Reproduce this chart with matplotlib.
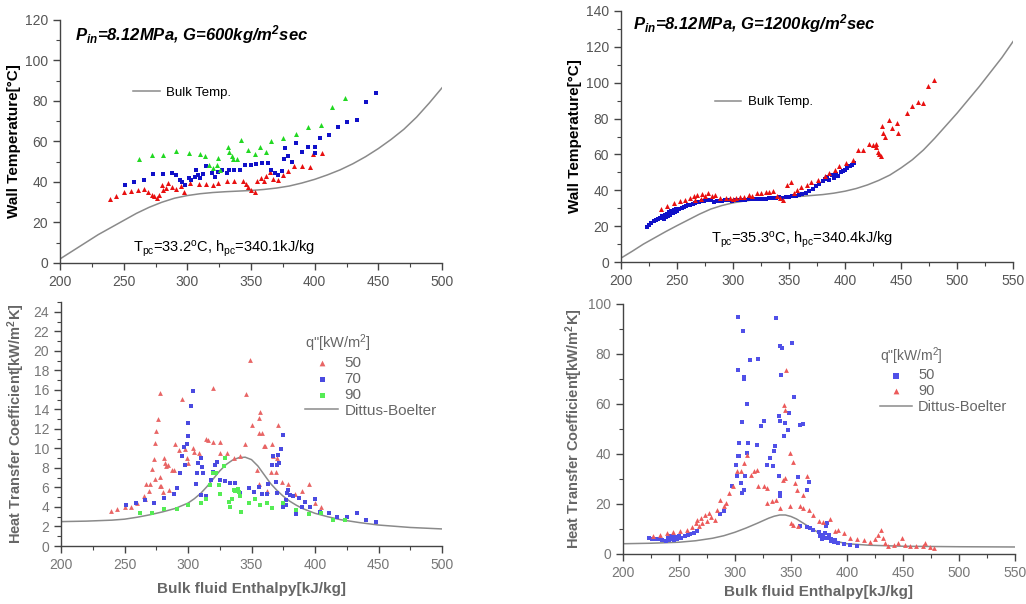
import matplotlib
matplotlib.use("Agg")
import matplotlib.pyplot as plt
from matplotlib.ticker import MultipleLocator
from matplotlib.lines import Line2D

plt.rcParams["font.family"] = ["Liberation Sans", "DejaVu Sans"]
plt.rcParams["mathtext.default"] = "regular"

# ---------------- top left: wall temperature, G=600 ----------------
bulk1_h = [200, 210, 220, 230, 240, 250, 260, 270, 280, 290, 300, 310, 320, 330, 340, 350,
           360, 370, 380, 390, 400, 410, 420, 430, 440, 450, 460, 470, 480, 490, 500]
bulk1_T = [2, 6, 10, 14, 17.5, 21, 24.5, 27.5, 30, 32, 33.3, 34.2, 34.8, 35.2, 35.5, 35.8,
           36.3, 37, 38, 39.5, 41.3, 43.5, 46, 49, 52.5, 56.5, 61, 66, 72, 79, 86.5]

tw1_q50_h = [239, 244, 250, 256, 261, 266, 269, 272, 274, 276, 278, 280, 281, 283, 285, 288,
             291, 295, 297, 302, 309, 315, 320, 324, 331, 337, 344, 346, 348, 350, 353, 355,
             358, 360, 362, 365, 367, 371, 375, 379, 384, 390, 396, 399, 406]
tw1_q50_T = [31.6, 33.2, 34.9, 35.7, 36, 36.5, 35.3, 33.7, 32.9, 32, 33.7, 38.6, 35.8, 37,
             39.5, 37.5, 36.5, 37.8, 35.3, 39.5, 39.1, 39, 38.6, 39.5, 40.6, 40.6, 40.6, 39.1,
             37.3, 36.2, 35, 40.3, 41.9, 40.3, 43, 44.7, 41.4, 41.1, 43.6, 45.2, 47.7, 47.7,
             47.3, 53.9, 54.2]
tw1_q70_h = [251, 258, 266, 273, 281, 288, 291, 294, 296, 298, 301, 303, 306, 307, 308, 310,
             312, 315, 319, 322, 324, 327, 331, 333, 337, 341, 345, 350, 354, 359, 363, 366,
             369, 371, 374, 376, 377, 379, 382, 385, 390, 395, 400, 400, 404, 411, 418, 425,
             433, 440, 448]
tw1_q70_T = [38.3, 39.8, 41.1, 44, 44, 44.4, 43.6, 41.1, 39.8, 38.6, 41.9, 41, 42.7, 46, 43.6,
             42, 44, 47.7, 44.4, 42.7, 44.7, 46, 44.4, 46, 46, 46, 48.5, 48.5, 49, 49.3, 49.3,
             46, 44.4, 43.6, 45.2, 51.5, 56.7, 52.6, 50.1, 59.2, 55, 57.5, 57.5, 54.2, 61.6,
             63.3, 67.4, 69.5, 70.4, 79.7, 83.8]
tw1_q90_h = [262, 272, 281, 291, 301, 310, 314, 317, 320, 323, 324, 326, 332, 333, 335, 336,
             339, 342, 348, 353, 357, 362, 366, 375, 385, 395, 405, 414, 424]
tw1_q90_T = [51.3, 53.4, 53.4, 55.4, 54.2, 53.9, 52.9, 48.5, 46.9, 48.5, 51.8, 46, 57.5, 55,
             52.6, 51.3, 51.3, 60.8, 55.9, 53.9, 57.5, 55, 60, 61.6, 63.8, 67, 67.9, 77, 81.7]

# ---------------- top right: wall temperature, G=1200 ----------------
bulk2_h = [200, 210, 220, 230, 240, 250, 260, 270, 280, 290, 300, 310, 320, 330, 340, 350,
           360, 370, 380, 390, 400, 410, 420, 430, 440, 450, 460, 470, 480, 490, 500, 510,
           520, 530, 540, 550]
bulk2_T = [2.2, 6, 10, 13.5, 17, 20.3, 23.5, 26.7, 29.5, 31.5, 33, 34, 34.8, 35.3, 35.8, 36.2,
           36.6, 37.1, 37.6, 38.4, 39.5, 41, 43, 45.5, 48.5, 52.5, 57, 62.5, 69, 76, 83, 90.5,
           98, 106, 114, 123]

tw2_q50_h = [223, 225, 227, 229, 231, 233, 235, 237, 238, 239, 240, 241, 242, 243, 244, 245,
             246, 247, 248, 249, 250, 252, 254, 256, 258, 260, 262, 264, 266, 268, 270, 272,
             274, 276, 278, 280, 283, 286, 288, 290, 293, 296, 299, 302, 305, 308, 311, 314,
             317, 320, 323, 326, 329, 332, 335, 338, 341, 344, 347, 350, 353, 356, 359, 362,
             365, 368, 371, 374, 377, 380, 382, 384, 386, 388, 390, 392, 394, 396, 398, 400,
             402, 404, 406, 408]
tw2_q50_T = [19.8, 20.8, 21.8, 22.6, 23.3, 24.2, 24.8, 25.5, 23.8, 26.5, 25, 27, 25.8, 28,
             26.5, 28.6, 27.3, 29, 28, 29.5, 28.7, 29.7, 30.2, 30.8, 31.2, 31.7, 32, 32.5,
             32.9, 33.2, 33.5, 33.8, 34.2, 34.4, 34.6, 34.8, 33.6, 34, 34.2, 34.3, 34.4, 34.5,
             34.3, 34.6, 34.7, 34.4, 34.8, 35, 35.1, 34.9, 35.3, 35.4, 35.2, 35.6, 35.8, 35.5,
             36, 35.8, 36.2, 36.4, 36.6, 36.9, 37.3, 38.2, 38.5, 39.5, 41, 42.5, 43.6, 45,
             46.5, 47.2, 46, 48.5, 46.8, 49, 47.8, 50, 50.5, 51.5, 52.5, 53.3, 54.2, 55]
tw2_q90_h = [236, 241, 247, 253, 257, 262, 265, 266, 268, 271, 272, 275, 278, 281, 284, 288,
             294, 300, 306, 314, 321, 329, 336, 339, 342, 345, 348, 352, 354, 357, 361, 366,
             370, 376, 382, 386, 391, 395, 401, 407, 412, 416, 421, 425, 428, 429, 430, 432,
             428, 433, 434, 436, 439, 442, 446, 447, 455, 460, 465, 470, 474, 479, 297, 303,
             310, 317, 325, 332]
tw2_q90_T = [29.5, 31, 32.9, 34.2, 34.7, 35.6, 36.6, 34.7, 37.5, 35.1, 37.9, 36.6, 38.4, 36.6,
             37.1, 35.6, 35.6, 35.3, 36, 37.5, 38.4, 38.8, 39.4, 36.6, 35.6, 34.7, 43, 44.9,
             38.4, 40.3, 42.1, 43, 44.9, 45.9, 47.7, 49.6, 51.4, 53.3, 55.1, 57, 62.2, 62.6,
             65.9, 65.4, 64.4, 61.6, 60.3, 58.9, 65.9, 75.6, 71.9, 70, 79.3, 74.6, 77.4, 71.9,
             83, 87.1, 89.5, 88.9, 98.2, 101.6, 35.8, 35.5, 36.2, 37, 38.5, 39]

# ---------------- bottom left: HTC, G=600 ----------------
db1_h = [200, 220, 240, 250, 260, 270, 280, 290, 300, 305, 310, 315, 320, 325, 330, 335, 340,
         345, 350, 355, 360, 365, 370, 375, 380, 385, 390, 400, 410, 420, 435, 450, 475, 500]
db1_v = [2.5, 2.55, 2.65, 2.75, 2.95, 3.2, 3.5, 3.85, 4.4, 4.85, 5.4, 6.1, 6.9, 7.7, 8.35, 8.8,
         9.05, 9.1, 8.85, 8.2, 7.3, 6.4, 5.7, 5.1, 4.6, 4.2, 3.85, 3.35, 3.0, 2.7, 2.4, 2.15,
         1.9, 1.75]

htc1_q50_h = [239, 244, 250, 255, 260, 266, 269, 270, 272, 273, 274, 275, 276, 278, 278, 279,
              280, 281, 282, 283, 285, 287, 290, 293, 295, 298, 299, 304, 309, 314, 316, 320,
              320, 325, 325, 331, 336, 341, 345, 346, 349, 350, 354, 356, 356, 358, 356, 357,
              360, 361, 362, 365, 366, 369, 370, 371, 374, 379, 384, 390, 395, 400, 405, 267,
              274, 278, 265, 284, 289, 300, 305, 367]
htc1_q50_v = [3.6, 3.8, 4.0, 4.0, 4.4, 4.8, 5.6, 6.4, 7.9, 8.9, 10.6, 11.8, 13, 15.7, 7.1, 6.1,
              5.5, 9, 8.5, 8.2, 5.7, 7.8, 10.5, 9.8, 15.1, 9.9, 9, 10, 9.5, 11, 10.9, 16.2,
              10.7, 10.7, 9.5, 9.5, 9, 9.2, 10.5, 15.6, 19.1, 12.4, 7.8, 6.4, 11.6, 11.6, 13.1,
              13.7, 10.2, 10.2, 5.6, 7.6, 10.5, 7.6, 9, 12.4, 6.6, 6.4, 5.3, 5.6, 6.4, 4.4, 4.0,
              6.4, 6.9, 6.1, 5.1, 8.3, 7.8, 8.5, 9.6, 9.2]
htc1_q70_h = [251, 259, 266, 273, 281, 289, 291, 294, 295, 297, 298, 299, 300, 300, 302, 304,
              306, 307, 308, 310, 310, 311, 312, 314, 318, 320, 321, 323, 325, 329, 329, 333,
              337, 341, 348, 352, 356, 358, 362, 363, 366, 367, 369, 370, 370, 371, 372, 373,
              375, 375, 377, 377, 378, 379, 380, 383, 385, 387, 390, 392, 396, 400, 404, 411,
              417, 425, 433, 440, 448]
htc1_q70_v = [4.2, 4.4, 4.7, 4.4, 4.9, 5.3, 5.9, 7.5, 9.2, 10.1, 8.3, 10.5, 11.3, 12.6, 14.3,
              15.9, 6.4, 7.5, 8.5, 9, 5.2, 8.1, 7.5, 5.1, 6.8, 7.6, 8.3, 8.6, 6.8, 9, 6.7, 6.5,
              6.5, 5.4, 5.9, 5.5, 6, 5.3, 5.3, 6.4, 8.3, 9.2, 6.6, 5.4, 8.3, 9.3, 8.5, 9.9,
              11.4, 4, 4.2, 4.7, 5.4, 5.7, 5.2, 5.1, 3.3, 4.9, 4, 4.5, 4, 4.8, 3.5, 3.4, 3, 3,
              3.4, 2.7, 2.5]
htc1_q90_h = [262, 272, 281, 291, 300, 310, 314, 317, 320, 322, 324, 325, 328, 329, 332, 333,
              335, 336, 337, 339, 340, 341, 342, 348, 353, 357, 362, 366, 375, 385, 395, 405,
              414, 424]
htc1_q90_v = [3.4, 3.4, 3.8, 3.8, 4.2, 4.4, 4.8, 6.3, 7.5, 7.5, 6.3, 5.3, 8.2, 9, 4.5, 4, 4.8,
              5.7, 5.6, 5.8, 5.5, 5.1, 3.5, 4.4, 4.8, 4.2, 4.4, 3.9, 4.4, 3.7, 3.3, 3.4, 2.7,
              2.7]

# ---------------- bottom right: HTC, G=1200 ----------------
db2_h = [200, 225, 250, 265, 280, 290, 300, 310, 320, 330, 335, 340, 345, 350, 355, 360, 365,
         370, 375, 380, 385, 390, 400, 420, 450, 500, 550]
db2_v = [4.1, 4.3, 4.7, 5.3, 6.3, 7.3, 8.7, 10.4, 12.3, 14.3, 15.1, 15.6, 15.6, 15, 14, 12.6,
         11.2, 9.8, 8.4, 7.1, 6, 5.1, 4.1, 3.5, 3.1, 2.9, 2.8]

htc2_q50_h = [223, 226, 229, 232, 235, 238, 240, 241, 242, 243, 244, 245, 246, 247, 248, 250,
              252, 255, 258, 260, 263, 266, 287, 290, 297, 301, 302, 303, 304, 304, 306, 303,
              303, 307, 308, 308, 311, 305, 306, 308, 309, 311, 312, 313, 321, 320, 323, 326,
              329, 331, 335, 336, 334, 337, 340, 342, 341, 339, 340, 339, 340, 340, 345, 347,
              348, 344, 351, 353, 356, 358, 361, 364, 366, 358, 364, 367, 370, 375, 379, 381,
              382, 384, 386, 388, 392, 397, 403, 409, 376, 378, 380, 381, 384, 386, 389]
htc2_q50_v = [6.2, 6, 5.8, 5.9, 5.6, 5.2, 6.5, 5.5, 7, 5.8, 6.3, 7.2, 5.5, 6.8, 6, 7, 6.5, 7.3,
              7.6, 8, 8.4, 9, 16.1, 17, 27.3, 35.7, 31.3, 39, 39.3, 44.3, 52.6, 73.4, 94.9, 89.3,
              70.7, 69.9, 60, 28.4, 24.4, 25.7, 31, 40.3, 44.3, 77.4, 77.9, 43.7, 51, 53, 35.4,
              38.3, 41, 43.3, 35, 94.3, 83, 82.3, 71.6, 55, 53, 31, 24.4, 23, 52.3, 49.7, 56.3,
              47, 84.3, 62.7, 30.8, 51.7, 52, 25.7, 28.6, 11, 10.8, 10.4, 9.7, 8.7, 7.7, 11,
              12.4, 6.4, 5.1, 4.7, 4.4, 4.1, 3.7, 3.3, 7, 6, 8.5, 6.5, 7.5, 6, 5.5]
htc2_q90_h = [227, 233, 239, 245, 251, 257, 262, 265, 266, 268, 270, 271, 273, 275, 277, 279,
              282, 284, 287, 290, 292, 295, 298, 302, 305, 308, 311, 314, 317, 320, 321, 326,
              329, 329, 333, 337, 340, 343, 345, 346, 344, 345, 349, 349, 350, 352, 352, 354,
              355, 356, 358, 361, 361, 364, 366, 370, 375, 379, 385, 389, 392, 397, 403, 409,
              415, 421, 425, 428, 430, 432, 434, 437, 442, 446, 449, 452, 456, 462, 468, 470,
              474, 478]
htc2_q90_v = [7, 7.7, 8.4, 8.7, 9.1, 9.7, 10.8, 12.4, 13.7, 11, 14.4, 12.4, 15.7, 13, 16.4,
              14.8, 13.7, 17.7, 21.7, 19, 20.4, 24.4, 27, 33, 33, 36.4, 39.7, 31.7, 33, 33.7, 27,
              27, 26.4, 20.4, 21, 21.7, 18.4, 29.7, 30.4, 73.6, 59.7, 57.7, 40.3, 19, 12.4, 11.7,
              36.6, 28.4, 25.7, 11, 19, 18.4, 23.7, 31, 17.7, 15.7, 13, 12.6, 14, 9, 9.7, 8.4,
              6.4, 6, 5.5, 4.7, 6, 7.7, 9.7, 6.4, 4.4, 3.3, 3.7, 4.4, 6.4, 3.7, 3.3, 3.1, 3.3,
              4.4, 2.8, 2.4]

TICK_C = "#555555"
CURVE_C = "#8a8a8a"


def style_axes(ax, xmax, ymax, ymajor, yminor, tick_color):
    ax.set_xlim(200, xmax)
    ax.set_ylim(0, ymax)
    ax.xaxis.set_major_locator(MultipleLocator(50))
    ax.xaxis.set_minor_locator(MultipleLocator(25))
    ax.yaxis.set_major_locator(MultipleLocator(ymajor))
    ax.yaxis.set_minor_locator(MultipleLocator(yminor))
    for side in ("top", "right"):
        ax.spines[side].set_visible(False)
    for side in ("left", "bottom"):
        ax.spines[side].set_color("#444444")
        ax.spines[side].set_linewidth(1.0)
    ax.tick_params(which="major", direction="out", length=5, width=1, color="#444444",
                   labelsize=10, labelcolor=tick_color)
    ax.tick_params(which="minor", direction="out", length=3, width=0.8, color="#444444")


fig = plt.figure(figsize=(10.26, 6.04), dpi=100)

# ---- top left
ax1 = fig.add_axes([0.0585, 0.5646, 0.3723, 0.4023])
ax1.plot(bulk1_h, bulk1_T, color=CURVE_C, lw=1.1)
ax1.scatter(tw1_q50_h, tw1_q50_T, marker="^", s=13, color="#e81010", lw=0, zorder=3)
ax1.scatter(tw1_q70_h, tw1_q70_T, marker="s", s=9, color="#1010c8", lw=0, zorder=3)
ax1.scatter(tw1_q90_h, tw1_q90_T, marker="^", s=13, color="#22d822", lw=0, zorder=3)
style_axes(ax1, 500, 120, 20, 10, TICK_C)
ax1.set_ylabel("Wall Temperature[°C]", fontsize=11, fontweight="bold", labelpad=3)
ax1.text(0.04, 0.94, "$P_{in}$=8.12MPa, G=600kg/m$^2$sec", transform=ax1.transAxes,
         fontsize=12, fontweight="bold", fontstyle="italic", va="center")
ax1.text(0.19, 0.06, "T$_{pc}$=33.2$^o$C, h$_{pc}$=340.1kJ/kg", transform=ax1.transAxes,
         fontsize=10.5, va="center")
ax1.legend([Line2D([], [], color=CURVE_C, lw=1.1)], ["Bulk Temp."], loc="center left",
           bbox_to_anchor=(0.175, 0.70), frameon=False, fontsize=9.5, handlelength=2.0,
           borderpad=0, handletextpad=0.5)

# ---- top right
ax2 = fig.add_axes([0.6053, 0.5662, 0.3821, 0.4156])
ax2.plot(bulk2_h, bulk2_T, color=CURVE_C, lw=1.1)
ax2.scatter(tw2_q50_h, tw2_q50_T, marker="s", s=10, color="#1010c8", lw=0, zorder=3)
ax2.scatter(tw2_q90_h, tw2_q90_T, marker="^", s=13, color="#e81010", lw=0, zorder=4)
style_axes(ax2, 550, 140, 20, 10, TICK_C)
ax2.set_ylabel("Wall Temperature[°C]", fontsize=11, fontweight="bold", labelpad=3)
ax2.text(0.03, 0.95, "$P_{in}$=8.12MPa, G=1200kg/m$^2$sec", transform=ax2.transAxes,
         fontsize=12, fontweight="bold", fontstyle="italic", va="center")
ax2.text(0.23, 0.088, "T$_{pc}$=35.3$^o$C, h$_{pc}$=340.4kJ/kg", transform=ax2.transAxes,
         fontsize=10.5, va="center")
ax2.legend([Line2D([], [], color=CURVE_C, lw=1.1)], ["Bulk Temp."], loc="center left",
           bbox_to_anchor=(0.222, 0.637), frameon=False, fontsize=9.5, handlelength=2.0,
           borderpad=0, handletextpad=0.5)

# ---- bottom left
ax3 = fig.add_axes([0.0595, 0.0960, 0.3713, 0.4040])
ax3.plot(db1_h, db1_v, color=CURVE_C, lw=1.1, zorder=2)
s50 = ax3.scatter(htc1_q50_h, htc1_q50_v, marker="^", s=12, color="#e86565", lw=0, zorder=3)
s70 = ax3.scatter(htc1_q70_h, htc1_q70_v, marker="s", s=9, color="#4a4ae0", lw=0, zorder=3)
s90 = ax3.scatter(htc1_q90_h, htc1_q90_v, marker="s", s=9, color="#55ec55", lw=0, zorder=3)
style_axes(ax3, 500, 25, 2, 1, "#777777")
ax3.set_yticks(range(0, 25, 2))
ax3.set_ylabel("Heat Transfer Coefficient[kW/m$^2$K]", fontsize=10.5, fontweight="bold",
               color="#666666", labelpad=5)
ax3.set_xlabel("Bulk fluid Enthalpy[kJ/kg]", fontsize=11, fontweight="bold",
               color="#666666", labelpad=7)
ax3.legend([s50, s70, s90, Line2D([], [], color=CURVE_C, lw=1.1)],
           ["50", "70", "90", "Dittus-Boelter"], title='q"[kW/m$^2$]', alignment="left",
           loc="upper left", bbox_to_anchor=(0.62, 0.905), frameon=False, fontsize=11,
           title_fontsize=10.5, labelcolor="#666666", handlelength=2.2, handletextpad=0.4,
           labelspacing=0.12, borderpad=0, markerscale=1.2)
ax3.get_legend().get_title().set_color("#666666")

# ---- bottom right
ax4 = fig.add_axes([0.6072, 0.0828, 0.3820, 0.4140])
ax4.plot(db2_h, db2_v, color=CURVE_C, lw=1.1, zorder=2)
t50 = ax4.scatter(htc2_q50_h, htc2_q50_v, marker="s", s=11, color="#5050e8", lw=0, zorder=3)
t90 = ax4.scatter(htc2_q90_h, htc2_q90_v, marker="^", s=12, color="#ec5a5a", lw=0, zorder=3)
style_axes(ax4, 550, 100, 20, 10, "#777777")
ax4.set_ylabel("Heat Transfer Coefficient[kW/m$^2$K]", fontsize=10.5, fontweight="bold",
               color="#666666", labelpad=2)
ax4.set_xlabel("Bulk fluid Enthalpy[kJ/kg]", fontsize=11, fontweight="bold",
               color="#666666", labelpad=4)
ax4.legend([t50, t90, Line2D([], [], color=CURVE_C, lw=1.1)],
           ["50", "90", "Dittus-Boelter"], title='q"[kW/m$^2$]', alignment="left",
           loc="upper left", bbox_to_anchor=(0.638, 0.865), frameon=False, fontsize=10.5,
           title_fontsize=10, labelcolor="#666666", handlelength=2.2, handletextpad=0.4,
           labelspacing=0.12, borderpad=0, markerscale=1.2)
ax4.get_legend().get_title().set_color("#666666")

fig.savefig("out.png", dpi=100)
